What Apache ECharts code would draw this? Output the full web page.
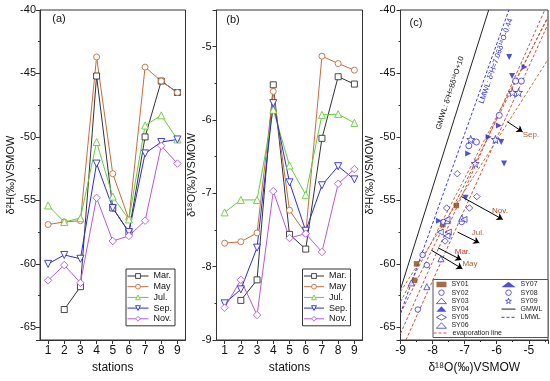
<!DOCTYPE html>
<html><head><meta charset="utf-8">
<script src="https://cdn.jsdelivr.net/npm/echarts@6/dist/echarts.min.js"></script>
<style>html,body{margin:0;padding:0;background:#fff}#c{width:550px;height:381px}</style>
</head><body><div id="c"></div>
<script>
// ---- data ----
const stations = ['1','2','3','4','5','6','7','8','9'];
const months = ['Mar.','May','Jul.','Sep.','Nov.'];
// delta 2H by station (panel a)
const marH = [null, -63.6, -61.8, -45.2, -55.6, -57.5, -50.0, -45.6, -46.5];
const mayH = [-56.9, -56.7, -56.6, -43.7, -52.9, -56.5, -44.5, -45.6, -46.5];
const julH = [-55.4, -56.7, -56.4, -50.4, -54.7, -56.5, -49.1, -48.3, -50.2];
const sepH = [-60.0, -59.3, -59.6, -52.1, -55.6, -57.5, -51.3, -50.4, -50.2];
const novH = [-61.3, -60.1, -61.5, -54.8, -58.2, -57.8, -56.6, -50.7, -52.1];
// delta 18O by station (panel b)
const marO = [null, -8.46, -8.18, -5.52, -7.56, -7.76, -6.25, -5.41, -5.51];
const mayO = [-7.68, -7.66, -7.54, -5.61, -7.23, -7.55, -5.13, -5.23, -5.32];
const julO = [-7.26, -7.09, -7.09, -5.86, -6.62, -7.02, -5.93, -5.92, -6.04];
const sepO = [-8.50, -8.31, -7.74, -5.77, -6.85, -7.51, -6.89, -6.63, -6.81];
const novO = [-8.56, -8.18, -8.66, -6.97, -7.61, -7.55, -7.80, -6.87, -6.67];
const siteNames = ['SY01','SY02','SY03','SY04','SY05','SY06','SY07','SY08','SY09'];
// reference lines (panel c), end points
const gmwl = [[-9, -62], [-6.25, -40]];
const lmwl = [[-9, -63.9], [-5.62, -40]];
const evapMar = [[-9, -65.5], [-4.5, -40]];
const evapMay = [[-9, -63.0], [-4.4, -40.6]];
const evapJul = [[-8.83, -66], [-4.4, -41.1]];
const evapSep = [[-9, -62.2], [-4.4, -43.9]];
const evapNov = [[-9, -63.9], [-4.4, -40.5]];
// arrows (start, end) and their month labels
const arrowSep = [[-5.67, -48.8], [-5.19, -49.6]];
const arrowNov = [[-7.10, -54.7], [-5.81, -56.5]];
const arrowJul = [[-7.22, -57.5], [-6.54, -58.35]];
const arrowMar = [[-7.83, -58.74], [-7.10, -59.69]];
const arrowMay = [[-8.03, -58.94], [-7.07, -60.39]];
const gmwlLabel = 'GMWL: δ²H=8δ¹⁸O+10';
const lmwlLabel = 'LMWL: δ²H=7.06δ¹⁸O-0.44';

const H = [marH, mayH, julH, sepH, novH];
const O = [marO, mayO, julO, sepO, novO];
const FONT = 'Liberation Sans, Arial, Helvetica, sans-serif';
const monthColors = ['#333333', '#c46e3c', '#66cc3a', '#2b2bd6', '#b25ae6'];
const monthSymbols = ['rect', 'circle', 'triangle', 'triangle', 'diamond'];
const monthRot = [0, 0, 0, 180, 0];
const monthSize = [6, 6, 7, 7, 7.5];
const BLUE = '#2323d2';
const STAR = 'path://M0,-10 L2.35,-3.24 L9.51,-3.09 L3.8,1.24 L5.88,8.09 L0,4 L-5.88,8.09 L-3.8,1.24 L-9.51,-3.09 L-2.35,-3.24 Z';
const siteStyle = [
  {symbol:'rect', size:5.5, rot:0, color:'#8b4a1c', fill:true},
  {symbol:'circle', size:5.5, rot:0, color:BLUE},
  {symbol:'triangle', size:6, rot:0, color:BLUE},
  {symbol:'triangle', size:6, rot:180, color:BLUE, fill:true},
  {symbol:'diamond', size:6.5, rot:0, color:BLUE},
  {symbol:'triangle', size:6, rot:90, color:BLUE},
  {symbol:'triangle', size:6, rot:-90, color:BLUE, fill:true},
  {symbol:'circle', size:6, rot:0, color:BLUE},
  {symbol:STAR, size:8, rot:0, color:BLUE}
];

const axisCommon = {
  axisLine: {show: true, onZero: false, lineStyle: {color: '#333', width: 1}},
  axisTick: {show: true, inside: false, length: 4, lineStyle: {color: '#333'}},
  splitLine: {show: false},
  axisLabel: {color: '#111', fontSize: 11, fontFamily: FONT},
  nameTextStyle: {color: '#111', fontSize: 11, fontFamily: FONT}
};
function ax(o) { return Object.assign({}, JSON.parse(JSON.stringify(axisCommon)), o, {
  axisLine: Object.assign({}, axisCommon.axisLine, o.axisLine || {}),
  axisTick: Object.assign({}, axisCommon.axisTick, o.axisTick || {}),
  axisLabel: Object.assign({}, axisCommon.axisLabel, o.axisLabel || {}),
  nameTextStyle: Object.assign({}, axisCommon.nameTextStyle, o.nameTextStyle || {})
}); }

const grids = [
  {left: 40, top: 10, width: 145.5, height: 330},
  {left: 216.5, top: 10, width: 146, height: 330},
  {left: 400.5, top: 10, width: 147.5, height: 330}
].map(g => Object.assign(g, {show: true, borderColor: '#333', borderWidth: 1, backgroundColor: 'transparent', containLabel: false, outerBoundsMode: 'none'}));

const xAxes = [
  ax({gridIndex: 0, type: 'category', data: stations, boundaryGap: true,
      axisTick: {alignWithLabel: true, interval: 0}, axisLabel: {interval: 0, fontSize: 12, margin: 5},
      name: 'stations', nameLocation: 'middle', nameGap: 22, nameTextStyle: {fontSize: 12}}),
  ax({gridIndex: 1, type: 'category', data: stations, boundaryGap: true,
      axisTick: {alignWithLabel: true, interval: 0}, axisLabel: {interval: 0, fontSize: 12, margin: 5},
      name: 'stations', nameLocation: 'middle', nameGap: 22, nameTextStyle: {fontSize: 12}}),
  ax({gridIndex: 2, type: 'value', min: -9, max: -4.4, interval: 1,
      axisLabel: {fontSize: 12, margin: 5, showMaxLabel: false},
      minorTick: {show: true, splitNumber: 2, length: 2, lineStyle: {color: '#333'}},
      name: 'δ¹⁸O(‰)VSMOW', nameLocation: 'middle', nameGap: 22, nameTextStyle: {fontSize: 12}})
];
const yAxes = [
  ax({gridIndex: 0, type: 'value', min: -66, max: -40, splitNumber: 5,
      axisLabel: {margin: 4, showMinLabel: false},
      minorTick: {show: true, splitNumber: 2, length: 2, lineStyle: {color: '#333'}},
      name: 'δ²H(‰)VSMOW', nameLocation: 'middle', nameRotate: 90, nameGap: 22}),
  ax({gridIndex: 1, type: 'value', min: -9, max: -4.5, interval: 1,
      axisLabel: {margin: 5, showMaxLabel: false},
      minorTick: {show: true, splitNumber: 2, length: 2, lineStyle: {color: '#333'}},
      name: 'δ¹⁸O(‰)VSMOW', nameLocation: 'middle', nameRotate: 90, nameGap: 6}),
  ax({gridIndex: 2, type: 'value', min: -66, max: -40, splitNumber: 5,
      axisLabel: {margin: 5, showMinLabel: false},
      minorTick: {show: true, splitNumber: 2, length: 2, lineStyle: {color: '#333'}},
      name: 'δ²H(‰)VSMOW', nameLocation: 'middle', nameRotate: 90, nameGap: 21})
];

const series = [];
months.forEach((m, i) => {
  [H, O].forEach((arr, k) => {
    series.push({
      type: 'line', name: m, xAxisIndex: k, yAxisIndex: k, data: arr[i],
      symbol: monthSymbols[i], symbolSize: monthSize[i], symbolRotate: monthRot[i],
      showAllSymbol: true, connectNulls: false,
      lineStyle: {color: monthColors[i], width: 1},
      itemStyle: {color: '#fff', borderColor: monthColors[i], borderWidth: 0.9}
    });
  });
});
siteNames.forEach((s, j) => {
  const st = siteStyle[j];
  const pts = [];
  months.forEach((m, i) => { if (O[i][j] != null && H[i][j] != null) pts.push([O[i][j], H[i][j]]); });
  const itemStyle = st.fill ? {color: st.color, borderWidth: 0}
                            : {color: '#fff', borderColor: st.color, borderWidth: 0.9};
  series.push({type: 'scatter', name: s, xAxisIndex: 2, yAxisIndex: 2, data: pts,
    symbol: st.symbol, symbolSize: st.size, symbolRotate: st.rot, itemStyle: itemStyle, z: 5});
});
[evapMar, evapMay, evapJul, evapSep, evapNov].forEach((e, i) => {
  series.push({type: 'line', name: 'evaporation line', xAxisIndex: 2, yAxisIndex: 2, data: e,
    symbol: 'none', lineStyle: {color: i % 2 ? '#b8743a' : '#d0503c', width: 1, type: [3, 2]},
    itemStyle: {color: '#b8743a'}, z: 3});
});
series.push({type: 'line', name: 'GMWL', xAxisIndex: 2, yAxisIndex: 2, data: gmwl, symbol: 'none',
  lineStyle: {color: '#222', width: 1}, itemStyle: {color: '#222'}, z: 3,
  markLine: {silent: true, symbol: ['none', 'arrow'], symbolSize: 6, animation: false,
    label: {show: false}, lineStyle: {color: '#000', width: 1, type: 'solid'},
    data: [arrowSep, arrowNov, arrowJul, arrowMar, arrowMay].map(a => [{coord: a[0]}, {coord: a[1]}])}});
series.push({type: 'line', name: 'LMWL', xAxisIndex: 2, yAxisIndex: 2, data: lmwl, symbol: 'none',
  lineStyle: {color: '#3a3ae6', width: 1, type: [3, 2]}, itemStyle: {color: '#3a3ae6'}, z: 3});

const legendBase = {orient: 'vertical', itemGap: 0.7, itemHeight: 6, padding: [2, 3, 2, 1],
  borderColor: '#333', borderWidth: 1, backgroundColor: '#fff', selectedMode: false,
  itemStyle: {borderWidth: 0.9}, lineStyle: {width: 1},
  textStyle: {fontSize: 9, lineHeight: 10, color: '#111', fontFamily: FONT}};
const smallLegend = {orient: 'vertical', itemGap: 0.2, itemHeight: 5.5, padding: 0, selectedMode: false,
  itemStyle: {borderWidth: 0.9}, lineStyle: {width: 1},
  textStyle: {fontSize: 7, lineHeight: 8, color: '#222', fontFamily: FONT}};
const lineItem = n => ({name: n, itemStyle: {opacity: 0}});

const txt = (t, x, y, o) => ({type: 'text', x: x, y: y, rotation: (o && o.rot) || 0, z: 20,
  style: {text: t, fill: (o && o.color) || '#111', fontSize: (o && o.size) || 11, fontFamily: FONT,
    align: 'center', verticalAlign: 'middle', textAlign: 'center', textVerticalAlign: 'middle'}});

const option = {
  animation: false,
  backgroundColor: '#fff',
  grid: grids, xAxis: xAxes, yAxis: yAxes, series: series,
  legend: [
    Object.assign({}, legendBase, {left: 126, top: 269, itemWidth: 21, data: months}),
    Object.assign({}, legendBase, {left: 302.5, top: 269, itemWidth: 20, data: months}),
    Object.assign({}, smallLegend, {left: 436, top: 280.5, itemWidth: 10, data: siteNames.slice(0, 6)}),
    Object.assign({}, smallLegend, {left: 501, top: 280.5, itemWidth: 14,
      data: siteNames.slice(6).concat([lineItem('GMWL'), lineItem('LMWL')])}),
    Object.assign({}, smallLegend, {left: 433, top: 329, itemWidth: 14, data: [lineItem('evaporation line')]})
  ],
  graphic: [
    {type: 'rect', shape: {x: 433, y: 279.5, width: 115, height: 58}, z: 0,
     style: {fill: '#fff', stroke: '#555', lineWidth: 1}},
    txt('(a)', 59, 19), txt('(b)', 233, 20), txt('(c)', 416, 23),
    txt(gmwlLabel, 450, 93, {rot: 72 * Math.PI / 180, size: 7.5, color: '#111'}),
    txt(lmwlLabel, 496, 61, {rot: 71 * Math.PI / 180, size: 7.5, color: '#2a2ad6'}),
    txt('Sep.', 531, 135, {size: 8, color: '#a8643a'}),
    txt('Nov.', 500, 210.5, {size: 8, color: '#b0502e'}),
    txt('Jul.', 478, 232.5, {size: 8, color: '#a8643a'}),
    txt('Mar.', 462.5, 251.5, {size: 8, color: '#c0402e'}),
    txt('May', 470, 263.5, {size: 8, color: '#a8643a'})
  ]
};
const chart = echarts.init(document.getElementById('c'), null, {renderer: 'canvas'});
chart.setOption(option);
</script></body></html>
